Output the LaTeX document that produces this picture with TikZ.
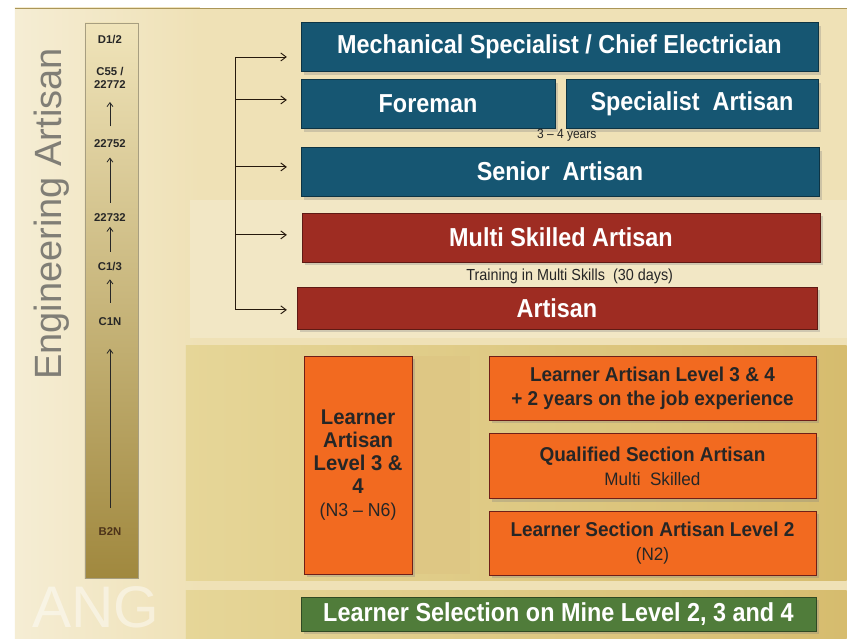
\documentclass[tikz,border=0pt]{standalone}
\usepackage{fontspec}
\setmainfont{Liberation Sans}
\newfontfamily\narrowfont[FakeStretch=0.9, Ligatures=TeX]{Liberation Sans}
\newfontfamily\semifont[FakeStretch=0.95, Ligatures=TeX]{Liberation Sans}
\usetikzlibrary{positioning, arrows.meta, shadows}

\newlength\unitpx
\setlength\unitpx{0.75pt}

\definecolor{boxblue}{RGB}{22,86,114}
\definecolor{boxred}{RGB}{158,44,34}
\definecolor{boxorange}{RGB}{242,106,32}
\definecolor{boxgreen}{RGB}{80,124,58}
\definecolor{paper}{RGB}{239,225,182}
\definecolor{paperlight}{RGB}{245,237,212}
\definecolor{panelgold}{RGB}{214,188,110}
\definecolor{panelpale}{RGB}{230,214,152}
\definecolor{bartop}{RGB}{240,228,186}
\definecolor{barmid}{RGB}{206,186,108}
\definecolor{barbot}{RGB}{160,136,62}
\definecolor{titlegray}{RGB}{128,126,118}

\begin{document}
\begin{tikzpicture}[x=0.75pt, y=-0.75pt, node distance=13\unitpx]

		\tikzstyle{panel} = [rectangle, draw, fill=boxblue, text=white, align=center, anchor=north west, inner sep=0pt, font=\narrowfont\bfseries\fontsize{19.5}{22}\selectfont, drop shadow={shadow xshift=2pt, shadow yshift=-2.5pt, opacity=0.3}]
		\tikzstyle{bluebox} = [panel, draw=boxblue!60!black]
		\tikzstyle{redbox} = [panel, fill=boxred, draw=boxred!60!black]
		\tikzstyle{orangebox} = [panel, fill=boxorange, draw=boxred!70!black, text=black!85, font=\semifont\bfseries\fontsize{15}{18}\selectfont]
		\tikzstyle{greenbox} = [panel, fill=boxgreen, draw=boxgreen!60!black]
		\tikzstyle{grade} = [font=\bfseries\fontsize{8.5}{9.5}\selectfont, inner sep=1pt, align=center, text=black!85]
		\tikzstyle{note} = [font=\narrowfont\fontsize{12}{13}\selectfont, inner sep=1pt, text=black!85]
		\tikzstyle{gradearrow} = [-{Straight Barb[length=3pt,width=4.5pt]}, line width=0.6pt, black!85]
		\tikzstyle{branch} = [-{Straight Barb[length=4pt,width=6pt]}, line width=0.7pt, black!80!brown]

		% Background
		\fill[white] (0,0) rectangle (847,639);
		\fill[paper] (15,8) rectangle (847,639);
		\shade[left color=paperlight, right color=paper] (15,8) rectangle (200,639);
		\draw[panelgold!80!black, line width=0.6pt] (15,8.5) -- (847,8.5);
		\fill[paperlight!50!paper] (190,200) rectangle (847,338);
		\shade[left color=panelpale, right color=panelgold] (186,346) rectangle (847,581);
		\fill[panelgold!70!paper] (413,356) rectangle (470,574);
		\shade[left color=panelpale, right color=panelgold] (186,591) rectangle (847,639);
		\node[text=white, text opacity=0.45, font=\fontsize{44}{44}\selectfont, anchor=north west, inner sep=0pt, text height=33pt, text depth=0pt] (mark) at (32,584) {ANG};

		% Grade bar
		\shade[top color=bartop, middle color=barmid, bottom color=barbot] (85,23) rectangle (138,579);
		\draw[paper!70!black, line width=0.5pt] (85,23) rectangle (138,579);
		\node[rotate=90, text=titlegray, font=\fontsize{28.5}{30}\selectfont] (title) at (52,214) {Engineering Artisan};

		\node[grade] (d12) at (110,40) {D1/2};
		\node[grade] (c55) at (110,78) {C55 /\\22772};
		\node[grade] (g52) at (110,144) {22752};
		\node[grade] (g32) at (110,218) {22732};
		\node[grade] (c13) at (110,267) {C1/3};
		\node[grade] (c1n) at (110,322) {C1N};
		\node[grade, text=black!60!brown] (b2n) at (110,532) {B2N};

		\draw[gradearrow, shorten <=9pt, shorten >=9pt] (g52) -- (c55);
		\draw[gradearrow, shorten <=7pt, shorten >=6pt] (g32) -- (g52);
		\draw[gradearrow, shorten <=7pt, shorten >=2.5pt] (c13) -- (g32);
		\draw[gradearrow, shorten <=10pt, shorten >=5pt] (c1n) -- (c13);
		\draw[gradearrow, shorten <=14pt, shorten >=16pt] (b2n) -- (c1n);

		% Define nodes
		\node[bluebox, minimum width=517\unitpx, minimum height=49\unitpx] (mech) at (301,22) {Mechanical Specialist / Chief Electrician};
		\node[bluebox, minimum width=254\unitpx, minimum height=49\unitpx] (foreman) at (301,79) {Foreman};
		\node[bluebox, minimum width=252\unitpx, minimum height=49\unitpx] (spec) at (566,79) {Specialist\ \ Artisan};
		\node[bluebox, minimum width=518\unitpx, minimum height=49\unitpx] (senior) at (301,147) {Senior\ \ Artisan};
		\node[redbox, minimum width=518\unitpx, minimum height=49\unitpx] (multi) at (302,213) {Multi Skilled Artisan};
		\node[redbox, minimum width=520\unitpx, minimum height=42\unitpx] (artisan) at (297,287) {Artisan};

		\node[note, font=\narrowfont\fontsize{10}{11}\selectfont] (years) at (567,135) {3 -- 4 years};
		\node[note] (training) at (570,276) {Training in Multi Skills\ \ (30 days)};

		\node[orangebox, minimum width=108\unitpx, minimum height=218\unitpx, font=\semifont\bfseries\fontsize{16}{17.25}\selectfont] (learner) at (304,356) {Learner\\Artisan\\Level 3 \&\\4\\{\semifont\mdseries\fontsize{14}{17.25}\selectfont (N3 -- N6)}};
		\node[orangebox, minimum width=327\unitpx, minimum height=64\unitpx] (lev34) at (489,356) {Learner Artisan Level 3 \& 4\\+ 2 years on the job experience};
		\node[orangebox, minimum width=327\unitpx, minimum height=65\unitpx, below=13\unitpx of lev34.south west, anchor=north west] (qualified) {Qualified Section Artisan\\{\semifont\mdseries\fontsize{13.5}{17}\selectfont Multi\ \ Skilled}};
		\node[orangebox, minimum width=327\unitpx, minimum height=64\unitpx, below=12\unitpx of qualified.south west, anchor=north west] (lev2) {Learner Section Artisan Level 2\\{\semifont\mdseries\fontsize{13.5}{17}\selectfont (N2)}};

		\node[greenbox, minimum width=515\unitpx, minimum height=34\unitpx] (select) at (301,597) {Learner Selection on Mine Level 2, 3 and 4};

		% Draw arrows
		\foreach \i/\y in {1/57, 2/100, 3/167, 4/235, 5/310} {
			\coordinate (br\i) at (236,\y);
			\coordinate (tip\i) at (287,\y);
		}
		\draw[line width=0.7pt, black!80!brown] (br1) -- (br5);
		\draw[branch] (br1) -- (tip1);
		\draw[branch] (br2) -- (tip2);
		\draw[branch] (br3) -- (tip3);
		\draw[branch] (br4) -- (tip4);
		\draw[branch] (br5) -- (tip5);

\end{tikzpicture}
\end{document}
